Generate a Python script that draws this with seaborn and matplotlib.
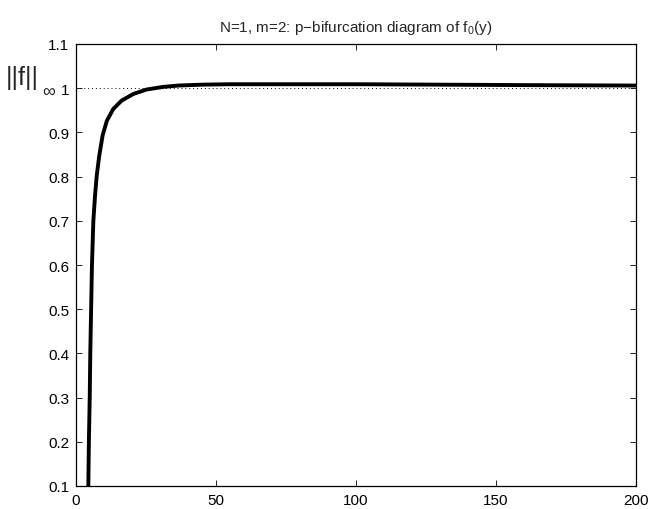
import matplotlib
matplotlib.use("Agg")
import matplotlib.pyplot as plt
import seaborn as sns
import pandas as pd

# data
p_values = [4.4, 4.6, 4.9, 5.1, 5.4, 5.7, 6.2, 6.8, 7.4, 8.3, 9.5, 11.0, 13.3, 16.3, 20.5, 25.2, 31.2, 36.5, 45.0, 55.0, 70.0, 100.0, 130.0, 160.0, 200.0]
norm_values = [0.10, 0.20, 0.30, 0.40, 0.50, 0.60, 0.70, 0.757, 0.802, 0.847, 0.893, 0.926, 0.953, 0.972, 0.987, 0.997, 1.003, 1.006, 1.008, 1.009, 1.009, 1.009, 1.008, 1.007, 1.006]
ref_x = [0, 200]
ref_y = [1.0, 1.0]
x_ticks = [0, 50, 100, 150, 200]
y_ticks = [0.1, 0.2, 0.3, 0.4, 0.5, 0.6, 0.7, 0.8, 0.9, 1.0, 1.1]
y_ticklabels = ["0.1", "0.2", "0.3", "0.4", "0.5", "0.6", "0.7", "0.8", "0.9", "1", "1.1"]

sns.set_style("white")
plt.rcParams['font.family'] = ['Liberation Sans', 'DejaVu Sans']
plt.rcParams['mathtext.fontset'] = 'custom'
plt.rcParams['mathtext.rm'] = 'Liberation Sans'
plt.rcParams['mathtext.it'] = 'Liberation Sans'

fig = plt.figure(figsize=(6.52, 5.10), dpi=100)
ax = fig.add_axes([76/652, 1 - 487/510, (636 - 76)/652, (487 - 45)/510])

df = pd.DataFrame({"p": p_values, "norm": norm_values})
ref = pd.DataFrame({"p": ref_x, "norm": ref_y})
sns.lineplot(data=ref, x="p", y="norm", ax=ax, color="black", linestyle=(0, (1, 3)), linewidth=0.7, sort=False)
sns.lineplot(data=df, x="p", y="norm", ax=ax, color="black", linewidth=2.8, sort=False)

ax.set_xlim(0, 200)
ax.set_ylim(0.1, 1.1)
ax.set_xticks(x_ticks)
ax.set_xticklabels([str(t) for t in x_ticks])
ax.set_yticks(y_ticks)
ax.set_yticklabels(y_ticklabels)
ax.set_xlabel("")
ax.set_ylabel("")
ax.tick_params(direction="in", length=4, width=0.6, labelsize=11, color="black", labelcolor="black",
               bottom=True, left=True, top=True, right=True, pad=5)
for s in ax.spines.values():
    s.set_linewidth(0.9)
    s.set_color("black")

ax.set_title(r"N=1, m=2: p$-$bifurcation diagram of f$_0$(y)", fontsize=11, pad=9)
fig.text(6/652, 1 - 85/510, "||f||", fontsize=18, ha="left", va="baseline")
fig.text(42/652, 1 - 97/510, "\u221e", fontsize=13, ha="left", va="baseline",
         family=['Liberation Sans', 'DejaVu Sans'])

fig.savefig("out.png", dpi=100)
